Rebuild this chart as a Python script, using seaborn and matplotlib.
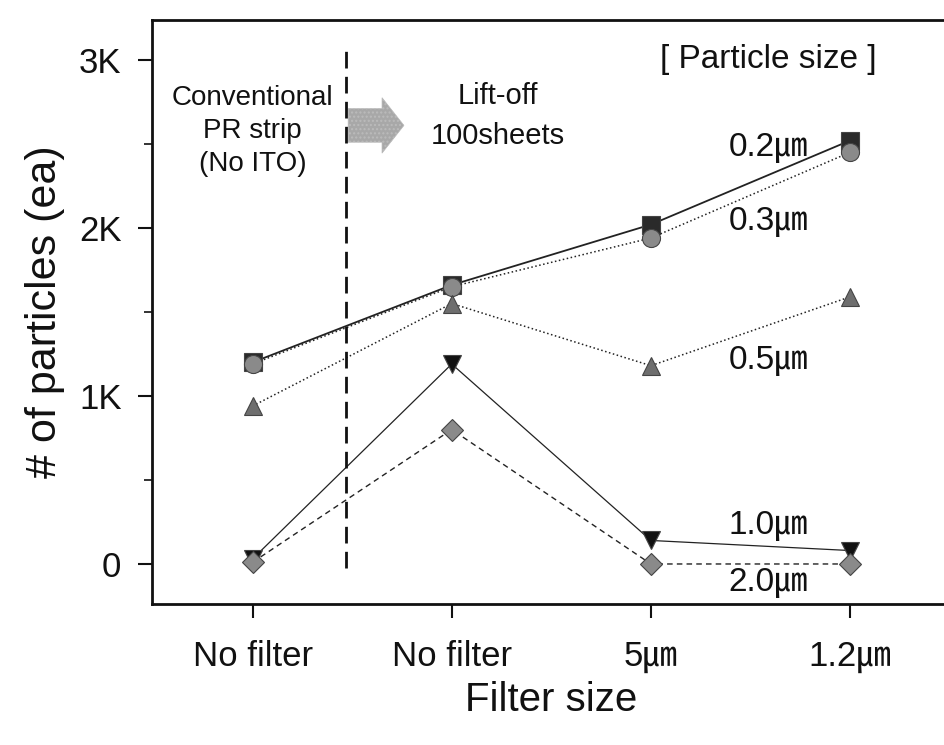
import matplotlib
matplotlib.use("Agg")
import matplotlib.pyplot as plt
import seaborn as sns
from matplotlib.patches import FancyArrow

# data
filter_labels = ["No filter", "No filter", "5\u339b", "1.2\u339b"]
positions = [0, 1, 2, 3]
p02 = [1200, 1660, 2020, 2520]
p03 = [1190, 1650, 1940, 2450]
p05 = [940, 1550, 1180, 1590]
p10 = [30, 1190, 140, 80]
p20 = [10, 800, 0, 0]
size_labels = ["0.2\u339b", "0.3\u339b", "0.5\u339b", "1.0\u339b", "2.0\u339b"]

sns.set_style("ticks")
plt.rcParams['font.family'] = ['Liberation Sans', 'Noto Sans CJK KR', 'DejaVu Sans']
plt.rcParams['text.color'] = '#111111'
plt.rcParams['axes.labelcolor'] = '#111111'

fig = plt.figure(figsize=(9.44, 7.45), dpi=100)
ax = fig.add_axes([0.161, 0.1893, 0.845, 0.784])

series = [
    (p02, 's', '#2a2a2a', '-', 1.3),
    (p03, 'o', '#8a8a8a', ':', 1.1),
    (p05, '^', '#6e6e6e', ':', 1.1),
    (p10, 'v', '#111111', '-', 0.9),
    (p20, 'D', '#8a8a8a', (0, (4, 3)), 1.0),
]
for vals, mk, col, ls, lw in series:
    sns.lineplot(x=positions, y=vals, ax=ax, color='#222222', linestyle=ls, linewidth=lw,
                 marker=mk, markersize=13 if mk != 'D' else 11, markerfacecolor=col,
                 markeredgecolor='#444444', markeredgewidth=0.8)

ax.axvline(0.47, ymin=(-24 + 238) / 3476, ymax=(3071 + 238) / 3476,
           color='#111111', linestyle=(0, (6, 3)), linewidth=2)

ax.add_patch(FancyArrow(0.48, 2610, 0.17, 0, width=200, head_width=330, head_length=0.11,
                        facecolor='#a8a8a8', edgecolor='#bbbbbb',
                        linewidth=0.5, hatch='....'))

ax.text(0.0, 2850, "Conventional\nPR strip\n(No ITO)", ha='center', va='top',
        fontsize=20, linespacing=1.35)
ax.text(1.23, 2870, "Lift-off\n100sheets", ha='center', va='top',
        fontsize=21, linespacing=1.55)
ax.text(2.59, 3000, "[ Particle size ]", ha='center', va='center', fontsize=24)

label_y = [2480, 2040, 1210, 230, -110]
for lab, yy in zip(size_labels, label_y):
    ax.text(2.59, yy, lab, ha='center', va='center', fontsize=24)

ax.set_xlim(-0.505, 3.5)
ax.set_ylim(-238, 3238)
ax.set_xticks(positions)
ax.set_xticklabels(filter_labels, fontsize=25)
ax.set_yticks([0, 1000, 2000, 3000])
ax.set_yticklabels(["0", "1K", "2K", "3K"], fontsize=25)
ax.set_yticks([500, 1500, 2500], minor=True)
ax.tick_params(axis='both', which='major', length=10, width=1.5, pad=12, colors='#111111')
ax.tick_params(axis='y', which='minor', length=6, width=1.2, colors='#111111')
ax.tick_params(axis='x', pad=16)

ax.set_xlabel("Filter size", fontsize=29, labelpad=6)
ax.set_ylabel("# of particles (ea)", fontsize=31, labelpad=10)

for side in ['left', 'bottom', 'top']:
    ax.spines[side].set_linewidth(2)
    ax.spines[side].set_color('#111111')
ax.spines['right'].set_visible(False)

fig.savefig("out.png", dpi=100)
